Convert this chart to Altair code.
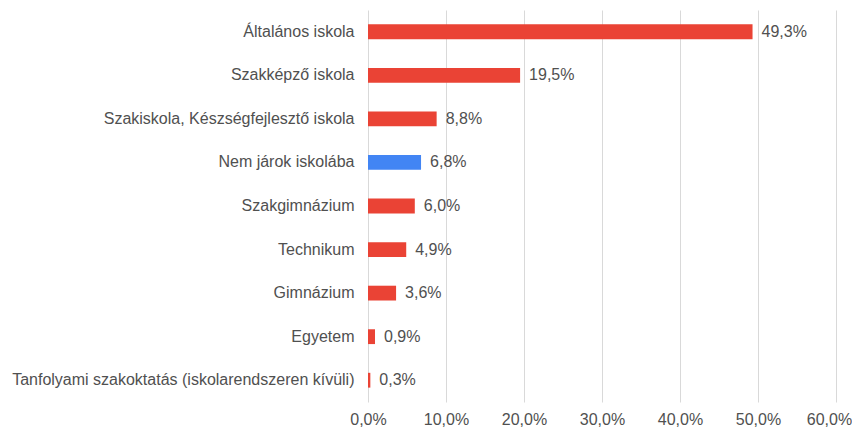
import altair as alt
import pandas as pd

categories = [
    "Általános iskola",
    "Szakképző iskola",
    "Szakiskola, Készségfejlesztő iskola",
    "Nem járok iskolába",
    "Szakgimnázium",
    "Technikum",
    "Gimnázium",
    "Egyetem",
    "Tanfolyami szakoktatás (iskolarendszeren kívüli)",
]
values = [49.3, 19.5, 8.8, 6.8, 6.0, 4.9, 3.6, 0.9, 0.3]
groups = ["a", "a", "a", "b", "a", "a", "a", "a", "a"]
labels = [f"{v:.1f}%".replace(".", ",") for v in values]

df = pd.DataFrame({"cat": categories, "val": values, "grp": groups, "lab": labels})

FONT = "Liberation Sans"
FS = 16
TC = "#505050"

x = alt.X(
    "val:Q",
    scale=alt.Scale(domain=[0, 60], nice=False),
    axis=alt.Axis(
        values=[0, 10, 20, 30, 40, 50, 60],
        labelExpr="replace(format(datum.value, '.1f'), '.', ',') + '%'",
        title=None,
        domain=False,
        ticks=False,
        grid=True,
        gridColor="#d9d9d9",
        gridWidth=1,
        labelPadding=9,
        labelFontSize=FS,
        labelColor=TC,
        labelFont=FONT,
        labelFlush=False,
        labelOffset={"expr": "datum.value == 60 ? -7 : 0"},
        labelBound=False,
        labelOverlap=False,
    ),
)
y = alt.Y(
    "cat:N",
    sort=categories,
    scale=alt.Scale(paddingInner=0.66, paddingOuter=0.33),
    axis=alt.Axis(
        title=None,
        domain=False,
        ticks=False,
        labelPadding=14,
        labelFontSize=FS,
        labelColor=TC,
        labelFont=FONT,
        labelLimit=400,
    ),
)

bars = alt.Chart(df).mark_bar().encode(
    x=x,
    y=y,
    color=alt.Color(
        "grp:N",
        scale=alt.Scale(domain=["a", "b"], range=["#EA4335", "#4285F4"]),
        legend=None,
    ),
)

text = alt.Chart(df).mark_text(
    align="left", baseline="middle", dx=9, fontSize=FS, color=TC, font=FONT
).encode(x="val:Q", y=alt.Y("cat:N", sort=categories), text="lab:N")

chart = (
    alt.layer(bars, text)
    .properties(
        width=468,
        height=392,
        autosize=alt.AutoSizeParams(type="none"),
        padding={"left": 360, "top": 2, "right": 16, "bottom": 26},
    )
    .configure_view(stroke=None)
)

chart.save("out.html", embed_options={"renderer": "svg", "actions": False})
